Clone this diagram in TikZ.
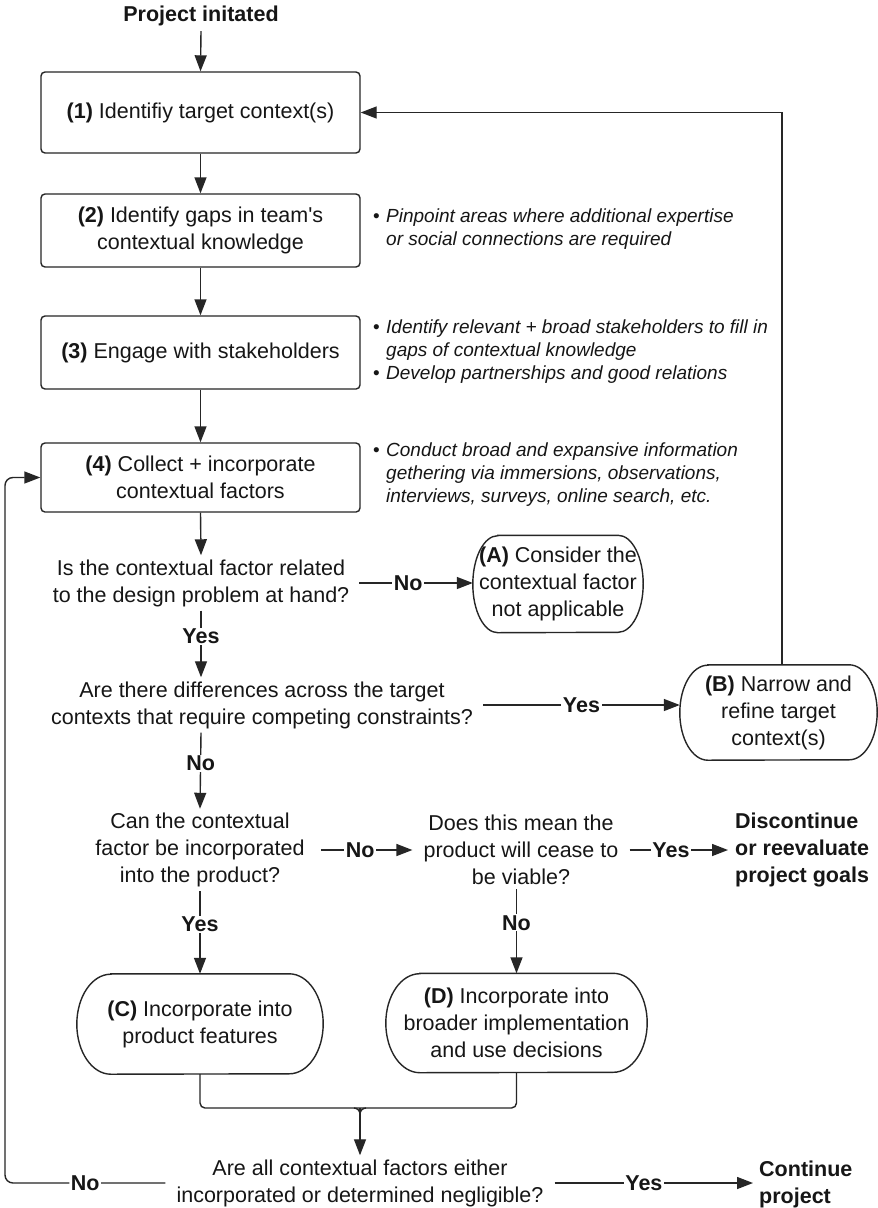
\documentclass[tikz,border=0pt]{standalone}
\usepackage{fontspec}
\setmainfont{Liberation Sans}
\usetikzlibrary{arrows.meta,calc}
\definecolor{ln}{RGB}{38,38,38}
\definecolor{tx}{RGB}{22,22,22}
\newcommand\bl{\makebox[13pt][l]{\upshape\textbullet}}
\newcommand\stad[3]{%
  \draw[line] ([xshift=#2]#1.north west) -- ([xshift=-#2]#1.north east)
    arc[start angle=90,end angle=-90,x radius=#2,y radius=#3]
    -- ([xshift=#2]#1.south west)
    arc[start angle=270,end angle=90,x radius=#2,y radius=#3] -- cycle;}
\begin{document}
\begin{tikzpicture}[x=1pt,y=-1pt,
  every node/.style={text=tx, font=\fontsize{21.5}{27}\selectfont},
  box/.style={draw=ln, line width=1.4pt, rounded corners=4pt, minimum width=319pt, align=center, inner sep=0pt},
  ques/.style={align=center, inner xsep=10pt, inner ysep=4pt},
  note/.style={anchor=west, align=left, inner sep=0pt, font=\fontsize{19}{23}\selectfont\itshape},
  term/.style={align=center, inner sep=0pt},
  bterm/.style={align=left, anchor=west, inner ysep=0pt, font=\fontsize{21.5}{27}\selectfont\bfseries},
  lbl/.style={fill=white, inner xsep=1.5pt, inner ysep=1pt, font=\fontsize{21.5}{27}\selectfont\bfseries},
  line/.style={draw=ln, line width=1.4pt},
  arr/.style={line, -{Triangle[length=16pt,width=12pt]}},
]
\fill[white] (0,0) rectangle (878,1208);
\useasboundingbox (0,0) rectangle (878,1208);

% title
\node[font=\fontsize{21.5}{27}\selectfont\bfseries, inner sep=5pt] (start) at (201,16) {Project initated};

% process boxes
\node[box, minimum height=81pt] (b1) at (200.5,112.5) {\textbf{(1)} Identifiy target context(s)};
\node[box, minimum height=73pt] (b2) at (200.5,230.5) {\textbf{(2)} Identify gaps in team\textquotesingle s\\contextual knowledge};
\node[box, minimum height=73pt] (b3) at (200.5,352.5) {\textbf{(3)} Engage with stakeholders};
\node[box, minimum height=69pt] (b4) at (200.5,477.5) {\textbf{(4)} Collect + incorporate\\contextual factors};

% notes
\node[note] (n2) at (373,229.5) {\bl Pinpoint areas where additional expertise\\\hspace*{13pt}or social connections are required};
\node[note] (n3) at (373,352) {\bl Identify relevant + broad stakeholders to fill in\\\hspace*{13pt}gaps of contextual knowledge\\\bl Develop partnerships and good relations};
\node[note] (n4) at (373,475) {\bl Conduct broad and expansive information\\\hspace*{13pt}gethering via immersions, observations,\\\hspace*{13pt}interviews, surveys, online search, etc.};

% questions
\node[ques] (q1) at (201,583) {Is the contextual factor related\\to the design problem at hand?};
\node[ques] (q2) at (262,705) {Are there differences across the target\\contexts that require competing constraints?};
\node[ques, inner xsep=16pt] (q3) at (200,850) {Can the contextual\\factor be incorporated\\into the product?};
\node[ques, inner xsep=11pt] (q4) at (521,850) {Does this mean the\\product will cease to\\be viable?};
\node[ques, inner xsep=11pt] (q5) at (360,1183) {Are all contextual factors either\\incorporated or determined negligible?};

% terminals
\node[bterm, inner xsep=7pt] (disc) at (728,850) {Discontinue\\or reevaluate\\project goals};
\node[bterm, inner xsep=6pt] (cont) at (753,1184) {Continue\\project};

% rounded outcomes
\node[term, minimum width=170pt, minimum height=97pt] (A) at (558,584) {\textbf{(A)} Consider the\\contextual factor\\not applicable};
\node[term, minimum width=197pt, minimum height=95pt] (B) at (778.5,712.5) {\textbf{(B)} Narrow and\\refine target\\context(s)};
\node[term, minimum width=246pt, minimum height=100pt] (C) at (200,1024) {\textbf{(C)} Incorporate into\\product features};
\node[term, minimum width=261pt, minimum height=99pt] (D) at (516.5,1023) {\textbf{(D)} Incorporate into\\broader implementation\\and use decisions};
\stad{A}{25pt}{48.5pt}
\stad{B}{28pt}{47.5pt}
\stad{C}{34pt}{50pt}
\stad{D}{34pt}{49.5pt}

% connectors
\draw[arr] (start.south) -- (b1.north);
\draw[arr] (b1.south) -- (b2.north);
\draw[arr] (b2.south) -- (b3.north);
\draw[arr] (b3.south) -- (b4.north);
\draw[arr] (b4.south) -- (q1.north);
\draw[arr] (q1.east) -- node[lbl,pos=0.43]{No} (A.west |- q1.east);
\draw[arr] (q1.south) -- node[lbl,pos=0.38]{Yes} (q1.south |- q2.north);
\draw[arr] (q2.east) -- node[lbl]{Yes} (B.west |- q2.east);
\draw[arr] ([xshift=3.5pt]B.north) |- (b1.east);
\draw[arr] (q1.south |- q2.south) -- node[lbl,pos=0.4]{No} (q3.north);
\draw[arr] (q3.east) -- node[lbl,pos=0.43]{No} (q4.west);
\draw[arr] (q4.east) -- node[lbl,pos=0.42]{Yes} (disc.west);
\draw[arr] (q3.south) -- node[lbl,pos=0.4]{Yes} (C.north);
\draw[arr] (D.north |- q4.south) -- node[lbl,pos=0.4]{No} (D.north);

% merge
\coordinate (m) at (360,1108);
\draw[line, rounded corners=5pt] (C.south) |- (m) -| (D.south);
\draw[line] ([xshift=-6pt]m) to[out=0,in=90] ([yshift=-6pt]m) to[out=90,in=180] ([xshift=6pt]m);
\draw[arr] (m) -- (q5.north);

% final decision
\coordinate (lc) at (5,0);
\draw[arr, rounded corners=8pt] (q5.west) -- node[lbl]{No} (lc |- q5.west) |- (b4.west);
\draw[arr] (q5.east) -- node[lbl,pos=0.45]{Yes} (cont.west |- q5.east);
\end{tikzpicture}
\end{document}
